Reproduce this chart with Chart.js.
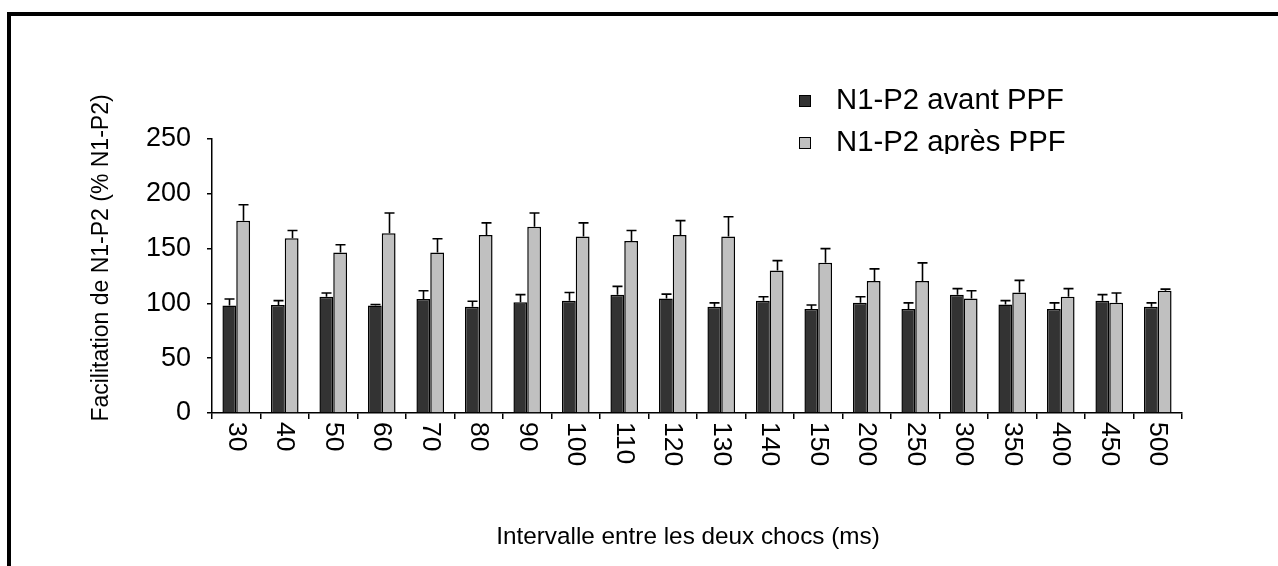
<!DOCTYPE html>
<html lang="fr">
<head>
<meta charset="utf-8">
<title>Facilitation de N1-P2</title>
<script src="https://cdn.jsdelivr.net/npm/chart.js@4.4.1/dist/chart.umd.min.js"></script>
<style>
  html, body { margin: 0; padding: 0; background: #fff; }
  body { width: 1278px; height: 566px; position: relative; overflow: hidden; }
  #frame {
    position: absolute; left: 7px; top: 12px; right: -10px; bottom: -10px;
    border-top: 4px solid #000; border-left: 4px solid #000;
  }
  #chart { position: absolute; left: 0; top: 0; }
</style>
</head>
<body>
<div id="frame"></div>
<canvas id="chart" width="1278" height="566"></canvas>
<script>
// Paired-pulse intervals (ms)
const categories = ['30', '40', '50', '60', '70', '80', '90', '100', '110', '120',
                    '130', '140', '150', '200', '250', '300', '350', '400', '450', '500'];

// Mean N1-P2 facilitation (% N1-P2) before PPF, with upper error (SEM)
const avantPPF = [98, 98.5, 106, 98, 104, 97, 101, 102.5, 108, 104.5,
                  97, 102.5, 95, 100.5, 95, 108, 99, 95, 102.5, 97];
const avantErr = [6, 4, 3.5, 1, 7.5, 5, 7, 7.5, 7.5, 4,
                  3.5, 3.5, 3.5, 5.5, 5.5, 5.5, 3.5, 5.5, 5.5, 3.5];

// Mean N1-P2 facilitation (% N1-P2) after PPF, with upper error (SEM)
const apresPPF = [175.5, 159.5, 146.5, 164, 146.5, 162.5, 170, 161, 157, 162.5,
                  161, 130, 137, 120.5, 120.5, 104.5, 110, 106, 100.5, 111.5];
const apresErr = [14.5, 7, 7, 18.5, 12.5, 11, 12.5, 12.5, 9.5, 13,
                  18, 9, 13, 11, 16.5, 7, 11, 7.5, 9, 1.5];

const yTicks = [0, 50, 100, 150, 200, 250];

const seriesNames = ['N1-P2 avant PPF', 'N1-P2 après PPF'];
const FONT = '"Liberation Sans", Arial, Helvetica, sans-serif';

// Upward error bars with a cap, one per bar
const errorBars = {
  id: 'errorBars',
  afterDatasetsDraw(chart) {
    const { ctx, scales: { y } } = chart;
    ctx.save();
    ctx.strokeStyle = '#000';
    ctx.lineWidth = 1.6;
    chart.data.datasets.forEach((ds, di) => {
      const meta = chart.getDatasetMeta(di);
      meta.data.forEach((bar, i) => {
        const top = y.getPixelForValue(ds.data[i] + ds.errors[i]);
        const cx = Math.round(bar.x) + 0.5;
        ctx.beginPath();
        ctx.moveTo(cx, bar.y);
        ctx.lineTo(cx, top);
        ctx.moveTo(cx - 5, top);
        ctx.lineTo(cx + 5, top);
        ctx.stroke();
      });
    });
    ctx.restore();
  }
};

// Category labels read top-to-bottom under each group
const xLabels = {
  id: 'xLabels',
  afterDraw(chart) {
    const { ctx, scales: { x } } = chart;
    ctx.save();
    ctx.font = '26.5px ' + FONT;
    ctx.fillStyle = '#000';
    ctx.textAlign = 'left';
    ctx.textBaseline = 'middle';
    categories.forEach((c, i) => {
      ctx.save();
      ctx.translate(x.getPixelForValue(i), x.top + 9);
      ctx.rotate(Math.PI / 2);
      ctx.fillText(c, 0, 0);
      ctx.restore();
    });
    ctx.restore();
  }
};

// Axis titles
const axisTitles = {
  id: 'axisTitles',
  afterDraw(chart) {
    const { ctx } = chart;
    ctx.save();
    ctx.fillStyle = '#000';
    ctx.textAlign = 'center';
    ctx.textBaseline = 'middle';
    ctx.font = '23px ' + FONT;
    ctx.translate(102, 258);
    ctx.rotate(-Math.PI / 2);
    ctx.fillText('Facilitation de N1-P2 (% N1-P2)', 0, 0);
    ctx.restore();

    ctx.save();
    ctx.fillStyle = '#000';
    ctx.textAlign = 'center';
    ctx.textBaseline = 'middle';
    ctx.font = '24.3px ' + FONT;
    ctx.fillText('Intervalle entre les deux chocs (ms)', 688, 537);
    ctx.restore();
  }
};

// Legend block in the upper right, cut off along its lower edge
const legendBlock = {
  id: 'legendBlock',
  afterDraw(chart) {
    const { ctx } = chart;
    ctx.save();
    ctx.beginPath();
    ctx.rect(0, 0, chart.width, 154);
    ctx.clip();
    ctx.font = '29.3px ' + FONT;
    ctx.textAlign = 'left';
    ctx.textBaseline = 'middle';
    const rows = [101, 143];
    chart.data.datasets.forEach((ds, i) => {
      const cy = rows[i];
      ctx.fillStyle = ds.backgroundColor;
      ctx.fillRect(799, cy - 6, 12, 12);
      ctx.strokeStyle = '#000';
      ctx.lineWidth = 1;
      ctx.strokeRect(799.5, cy - 5.5, 11, 11);
      ctx.fillStyle = '#000';
      ctx.fillText(ds.label, 836, cy);
    });
    ctx.restore();
  }
};

new Chart(document.getElementById('chart'), {
  type: 'bar',
  data: {
    labels: categories,
    datasets: [
      {
        label: seriesNames[0],
        data: avantPPF,
        errors: avantErr,
        backgroundColor: '#333333',
        borderColor: '#000',
        borderWidth: 1.5,
        categoryPercentage: 0.57,
        barPercentage: 1.0
      },
      {
        label: seriesNames[1],
        data: apresPPF,
        errors: apresErr,
        backgroundColor: '#c0c0c0',
        borderColor: '#000',
        borderWidth: 1.5,
        categoryPercentage: 0.57,
        barPercentage: 1.0
      }
    ]
  },
  options: {
    responsive: false,
    animation: false,
    events: [],
    layout: { padding: { left: 122, top: 139, right: 96, bottom: 0 } },
    plugins: {
      legend: { display: false },
      tooltip: { enabled: false },
      title: { display: false }
    },
    scales: {
      x: {
        offset: true,
        grid: {
          offset: true,
          drawOnChartArea: false,
          drawTicks: true,
          tickLength: 6,
          color: '#000',
          lineWidth: 1.5
        },
        border: { color: '#000', width: 1.5 },
        ticks: { display: false },
        afterFit(scale) { scale.height = 153; }
      },
      y: {
        min: 0,
        max: 250,
        afterBuildTicks(scale) { scale.ticks = yTicks.map(v => ({ value: v })); },
        ticks: {
          color: '#000',
          padding: 16,
          font: { size: 27, family: FONT }
        },
        grid: {
          drawOnChartArea: false,
          drawTicks: true,
          tickLength: 5,
          color: '#000',
          lineWidth: 1.5
        },
        border: { color: '#000', width: 1.5 },
        afterFit(scale) { scale.width = 90; }
      }
    }
  },
  plugins: [errorBars, xLabels, axisTitles, legendBlock]
});
</script>
</body>
</html>
